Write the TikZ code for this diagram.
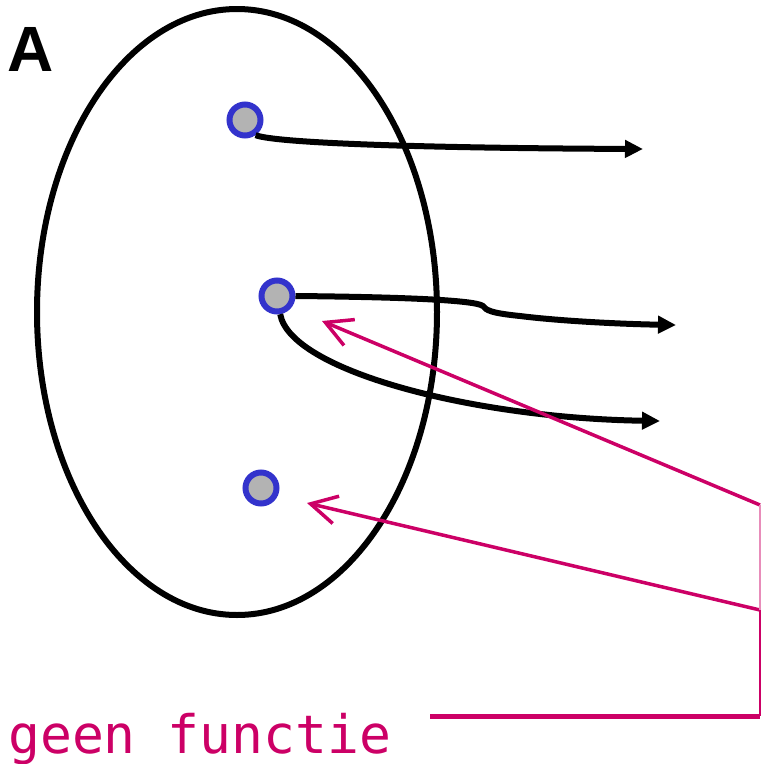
\documentclass[tikz,border=0pt]{standalone}
\usepackage{fontspec}
\setmainfont{Liberation Sans}
\newfontfamily\monofam{DejaVu Sans Mono}
\usetikzlibrary{arrows.meta}
\definecolor{mag}{HTML}{CC0066}
\definecolor{dotblue}{HTML}{3333CC}
\definecolor{dotgray}{HTML}{B3B3B3}
\begin{document}
\begin{tikzpicture}[x=1pt,y=-1pt,
  elem/.style={circle,draw=dotblue,fill=dotgray,line width=6pt,minimum size=31pt,inner sep=0pt},
  maparrow/.style={line width=6pt,-{Triangle[length=18pt,width=17pt]}},
  noarrow/.style={mag,line width=3.5pt,-{Straight Barb[length=26pt,width=28pt,line width=3.5pt]}},
  magline/.style={mag,line width=2.5pt}]
\useasboundingbox (0,0) rectangle (761,764);
% set ellipse
\draw[line width=6pt] (237,312) ellipse [x radius=200, y radius=303];
% label A
\node[font=\bfseries\fontsize{64}{70}\selectfont,anchor=center] (lblA) at (31,49) {A};
% elements
\node[elem] (n1) at (245,120) {};
\node[elem] (n2) at (277,296) {};
\node[elem] (n3) at (261,488) {};
% arrow end points
\coordinate (a1) at (643,149);
\coordinate (a2) at (676,325);
\coordinate (a3) at (660,421);
% black arrows
\draw[maparrow] (n1.-55) .. controls (275,143) and (420,148) .. (a1);
\draw[maparrow] (n2.east) .. controls (400,297) and (475,300) .. (483,306)
   .. controls (486,310) and (490,313) .. (520,316)
   .. controls (560,321) and (620,324) .. (a2);
\draw[maparrow] (n2.-80) .. controls (290,370) and (470,418) .. (a3);
% magenta
\coordinate (c1) at (760,505);
\coordinate (c2) at (760,610);
\coordinate (c3) at (760,716);
\coordinate (h0) at (430,716);
\coordinate (t1) at (322,321);
\coordinate (t2) at (307,503);
\draw[noarrow] (c1) -- (t1);
\draw[noarrow] (c2) -- (t2);
\draw[mag!45,line width=2pt] (c1) -- (c2);
\draw[magline] (c2) -- (c3);
\draw[mag,line width=5pt] (h0) -- (c3);
\node[font=\monofam\fontsize{53}{60}\selectfont,text=mag,anchor=base west,inner sep=0pt] (lbl) at (8,753) {geen functie};
\end{tikzpicture}
\end{document}
